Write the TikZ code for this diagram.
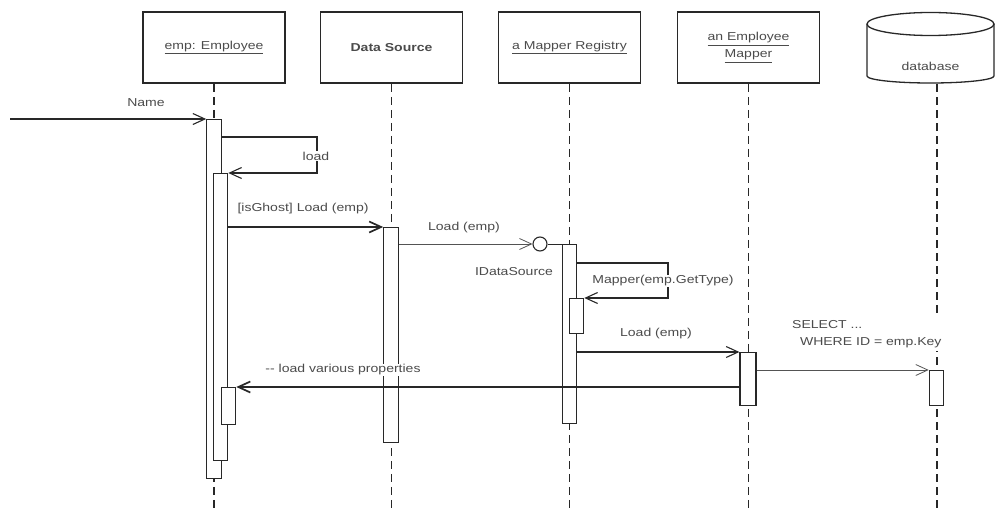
\documentclass[tikz,border=0pt]{standalone}
\usepackage{fontspec}
\setmainfont{Liberation Sans}[FakeStretch=1.22]
\usepackage{xcolor}
\usetikzlibrary{arrows.meta,positioning}
\definecolor{inkgray}{RGB}{40,40,40}
\definecolor{txtgray}{RGB}{75,75,75}
\tikzset{
  objbox/.style={draw=inkgray, line width=1.6pt, minimum width=142pt, minimum height=71pt, align=center, inner sep=0pt},
  lifeline/.style={draw=inkgray, line width=1.2pt, dash pattern=on 8pt off 5pt},
  actbar/.style={draw=inkgray, fill=white, line width=1.1pt, minimum width=14.5pt, inner sep=0pt, anchor=north},
  msg/.style={draw=inkgray, line width=1.1pt, -{Straight Barb[length=12pt,width=11pt]}},
  msgthick/.style={msg, line width=1.7pt},
  msgthin/.style={msg, draw=inkgray!80, line width=0.8pt},
  msglabel/.style={text=txtgray, inner sep=1pt},
}
\begin{document}
\begin{tikzpicture}[x=1pt,y=-1pt,font=\fontsize{11.5}{17}\selectfont,text=txtgray]
\useasboundingbox (0,0) rectangle (995,511);
% objects along the top
\node[objbox] (emp) at (214,47.5) {\underline{emp: Employee}};
\node[objbox] (ds) at (391.5,47.5) {\textbf{Data Source}};
\node[objbox] (reg) at (569.5,47.5) {\underline{a Mapper Registry}};
\node[objbox] (map) at (748.5,47.5) {\underline{an Employee}\\\underline{Mapper}};
% database cylinder
\draw[inkgray, line width=1.3pt] (930.5,24) ellipse [x radius=63.5pt, y radius=11.5pt];
\draw[inkgray, line width=1.3pt] (867,24) -- (867,76) arc [start angle=180, end angle=360, x radius=63.5pt, y radius=7pt] -- (994,24);
\node (db) at (930.5,66) {database};
\coordinate (dbtop) at (937,84);
% lifelines
\foreach \id in {emp,ds,reg,map}
    \draw[lifeline] (\id.south) -- (\id.south |- 0,511);
\draw[lifeline] (dbtop) -- (dbtop |- 0,511);
% activation bars
\node[actbar, minimum height=359pt] (empA) at (214,119) {};
\node[actbar, minimum height=287pt] (empB) at (220.5,173) {};
\node[actbar, minimum height=37pt] (empC) at (228.5,387) {};
\node[actbar, minimum height=215pt] (dsA) at (391,227) {};
\node[actbar, minimum height=179pt] (regA) at (569.5,244) {};
\node[actbar, minimum height=35pt] (regB) at (576.5,298) {};
\node[actbar, minimum height=53pt, minimum width=16pt] (mapA) at (748,352) {};
\node[actbar, minimum height=35pt] (dbA) at (936.5,370) {};
% messages
\coordinate (caller) at (10,119);
\draw[msg] (caller) -- (empA.north west);
\node[msglabel] (nameLbl) at (146,103) {Name};

\draw[msg] (empA.north east |- 0,137) -- (317,137) -- (317,173) -- (empB.north east);
\node[msglabel, fill=white] (loadLbl) at (316,156) {load};

\draw[msgthick] (empB.east |- dsA.north) -- (dsA.north west);
\node[msglabel] (ghostLbl) at (303,209) {[isGhost] Load (emp)};

\node[draw=inkgray, line width=1.1pt, circle, minimum size=14pt, inner sep=0pt] (ids) at (540,244) {};
\draw[msgthin] (dsA.east |- ids) -- (ids.west);
\draw[inkgray, line width=0.8pt] (ids.east) -- (regA.north west);
\node[msglabel] (dsLoadLbl) at (464,228) {Load (emp)};
\node[msglabel] (idsLbl) at (514,272) {IDataSource};

\draw[msg] (regA.east |- 0,263) -- (668,263) -- (668,298) -- (regB.north east);
\node[msglabel, fill=white] (mapperLbl) at (663,281) {Mapper(emp.GetType)};

\draw[msg] (regA.east |- mapA.north) -- (mapA.north west);
\node[msglabel] (regLoadLbl) at (656,334) {Load (emp)};

\draw[msgthin] (mapA.east |- dbA.north) -- (dbA.north west);
\node[msglabel, fill=white, align=left, anchor=west, inner sep=3pt] (sqlLbl) at (789,334) {SELECT ...\\\ \ WHERE ID = emp.Key};

\draw[msgthick] (mapA.west |- empC.north) -- (empC.north east);
\node[msglabel, fill=white] (propsLbl) at (343,370) {-{}- load various properties};
\end{tikzpicture}
\end{document}
